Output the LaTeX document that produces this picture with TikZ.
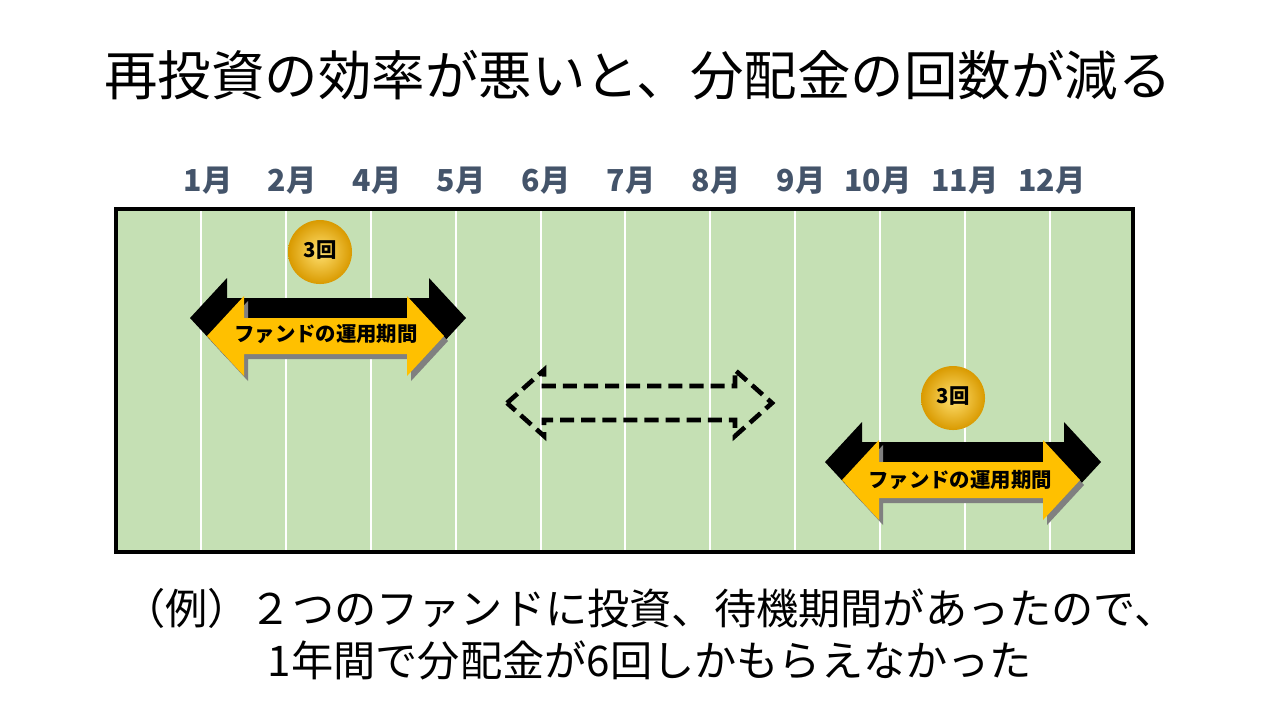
\documentclass[tikz,border=0pt]{standalone}
\usepackage{fontspec}
\setmainfont{Noto Sans CJK JP}
\begin{document}
\begin{tikzpicture}[x=0.01cm,y=-0.01cm,
  mon/.style={font=\fontsize{8.6pt}{9pt}\selectfont\bfseries,text=mslate},
  lab/.style={font=\fontsize{5.8pt}{6pt}\selectfont\bfseries}]
\definecolor{mslate}{HTML}{44546A}
\definecolor{fieldg}{HTML}{C5E0B4}
\definecolor{gold}{HTML}{FFC000}
\definecolor{goldl}{HTML}{FFE070}
\definecolor{goldd}{HTML}{D99A00}
\useasboundingbox (0,0) rectangle (1280,720);
\node at (638,75) {\fontsize{15.2pt}{17pt}\selectfont 再投資の効率が悪いと、分配金の回数が減る};
\foreach \x/\m in {208/1月,292/2月,377/4月,461/5月,546/6月,631/7月,716/8月,801/9月,878/10月,965/11月,1052/12月}
  \node[mon] at (\x,181) {\m};
\fill[fieldg] (116,209) rectangle (1133,552);
\foreach \x in {201,286,371,456,541,625,710,795,880,965,1050}
  \draw[white,line width=0.6pt] (\x,209) -- (\x,552);
\draw[line width=1.2pt] (116,209) rectangle (1133,552);
\newcommand\dbl[6]{(#1,#3) -- (#1+#6,#3-#4) -- (#1+#6,#3-#5) -- (#2-#6,#3-#5) -- (#2-#6,#3-#4) -- (#2,#3) -- (#2-#6,#3+#4) -- (#2-#6,#3+#5) -- (#1+#6,#3+#5) -- (#1+#6,#3+#4) -- cycle}
\tikzset{coin/.style={inner color=goldl,outer color=goldd}}
% arrow 1
\fill[black] \dbl{190}{466}{318}{40}{20}{37};
\fill[gray] \dbl{211}{448}{341}{40}{18}{37};
\fill[gold] \dbl{207}{444}{336}{40}{18}{37};
\node[lab] at (326,334) {ファンドの運用期間};
\shade[coin] (320,252) circle (32);
\node[lab] at (320,250) {3回};
% arrow 2
\fill[black] \dbl{825}{1101}{462}{40}{20}{37};
\fill[gray] \dbl{846}{1084}{485}{40}{18}{37};
\fill[gold] \dbl{842}{1080}{480}{40}{18}{37};
\node[lab] at (960,480) {ファンドの運用期間};
\shade[coin] (953,398) circle (32);
\node[lab] at (953,396) {3回};
% dashed arrow
\draw[line width=1.3pt,dash pattern=on 4pt off 2pt] \dbl{507}{772}{403}{33}{17}{37};
\node at (650,608) {\fontsize{12pt}{13pt}\selectfont （例）２つのファンドに投資、待機期間があったので、};
\node at (650,660) {\fontsize{12pt}{13pt}\selectfont 1年間で分配金が6回しかもらえなかった};
\end{tikzpicture}
\end{document}
